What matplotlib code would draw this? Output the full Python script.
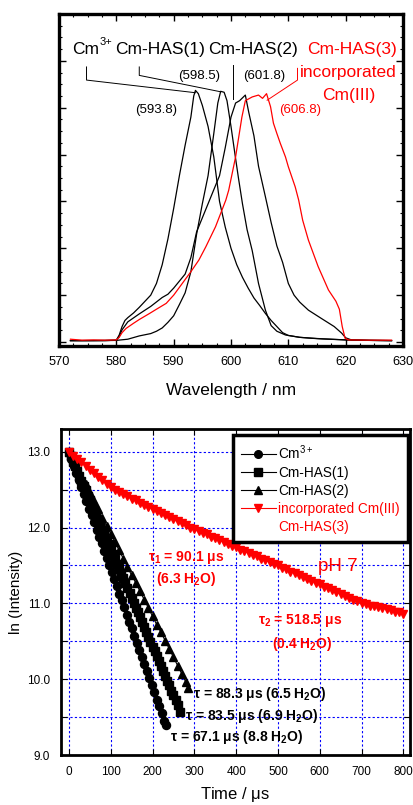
"""
Cm(III) emission spectra and luminescence decay (ln I vs. time)
"""
import matplotlib
matplotlib.use('Agg')
import matplotlib.pyplot as plt
from matplotlib.ticker import MultipleLocator, AutoMinorLocator, FixedLocator, FuncFormatter
from matplotlib.lines import Line2D

plt.rcParams['font.family'] = ['Liberation Sans', 'DejaVu Sans']
plt.rcParams['mathtext.fontset'] = 'custom'
plt.rcParams['mathtext.rm'] = 'Liberation Sans'
plt.rcParams['mathtext.it'] = 'Liberation Sans:italic'
plt.rcParams['mathtext.bf'] = 'Liberation Sans:bold'

# ============ spectra (wavelength nm, intensity a.u.) ============
wl_cm3 = [572, 574, 576, 578, 580, 580.5, 581, 581.5, 582, 583, 584, 585, 586, 587, 588, 589, 590,
          591, 592, 593, 593.5, 593.8, 594.3, 595, 596, 597, 598, 599, 600, 601, 602, 603, 604,
          605, 606, 607, 608, 609, 610, 612, 614, 616, 618, 620, 624, 628]
int_cm3 = [30, 30, 32, 30, 40, 150, 330, 460, 520, 620, 740, 870, 1000, 1250, 1650, 2200, 2850,
           3550, 4200, 4800, 5250, 5370, 5300, 5050, 4600, 3950, 3000, 2450, 2000, 1650, 1380, 1150, 940,
           780, 610, 460, 330, 200, 140, 100, 80, 65, 55, 45, 35, 30]

wl_has1 = [572, 576, 580, 582, 584, 586, 587, 588, 589, 590, 591, 592, 593, 594, 595, 596, 597,
           597.7, 598.2, 598.8, 599.3, 600, 600.7, 601.3, 602, 602.8, 603.7, 604.8, 606, 607, 608,
           609.5, 612, 615, 620, 624, 628]
int_has1 = [30, 30, 35, 60, 130, 180, 230, 300, 420, 560, 800, 1050, 1500, 2300, 2950, 3550, 4450,
            5100, 5350, 5330, 5150, 4600, 4000, 3500, 2950, 2400, 1950, 1250, 680, 350, 230,
            150, 100, 75, 45, 35, 30]

wl_has2 = [572, 576, 580, 580.5, 581, 582, 584, 586, 588, 589, 590, 591, 592, 593, 594, 595, 596,
           597, 598, 599, 600, 600.8, 601.5, 602.5, 603.1, 604, 604.8, 606, 607, 608, 609, 610, 611,
           612, 613.5, 615.8, 618, 619.3, 620, 621, 624, 628]
int_has2 = [30, 30, 35, 120, 260, 430, 600, 760, 950, 1020, 1150, 1300, 1450, 1800, 2350, 2650, 2950,
            3250, 3550, 4150, 4800, 5100, 5150, 5270, 4900, 4400, 3750, 3100, 2550, 2050, 1700, 1250, 1000,
            850, 680, 500, 330, 190, 90, 45, 35, 30]

wl_has3 = [572, 574, 576, 578, 580, 580.5, 581, 581.7, 583, 584, 585.8, 587, 588.7, 590, 591.5, 593,
           594.4, 595.6, 597.3, 599.1, 599.6, 600.8, 601.9, 602.5, 603.7, 604.8, 605.5, 606.2, 606.9,
           607.4, 608, 608.6, 609.5, 610, 611.2, 611.8, 612.5, 613.5, 615.2, 617, 618.3, 618.9, 619.4,
           619.9, 620.5, 624, 628]
int_has3 = [60, 40, 45, 40, 45, 100, 200, 290, 400, 480, 610, 700, 825, 1000, 1250, 1500,
            1750, 2030, 2460, 3030, 3240, 3950, 4800, 5150, 5230, 5270, 5200, 5300, 5020,
            4670, 4450, 4240, 3950, 3740, 3310, 3030, 2600, 2175, 1610, 1110, 870, 700, 330,
            80, 45, 40, 40]

peak_nm = [593.8, 598.5, 601.8, 606.8]

# ============ decay curves (time us, ln intensity) ============
t_cm3 = [0, 6, 12, 18, 24, 30, 36, 42, 48, 54, 60, 66, 72, 78, 84, 90, 96, 102, 108, 114,
         120, 126, 132, 138, 144, 150, 156, 162, 168, 174, 180, 186, 192, 198, 204, 210, 216,
         222, 228, 232]
ln_cm3 = [13.00, 12.91, 12.81, 12.72, 12.63, 12.53, 12.44, 12.35, 12.25, 12.16, 12.07, 11.97,
          11.88, 11.79, 11.69, 11.60, 11.51, 11.41, 11.32, 11.23, 11.13, 11.04, 10.95, 10.85,
          10.76, 10.67, 10.57, 10.48, 10.39, 10.29, 10.20, 10.11, 10.01, 9.92, 9.83, 9.73, 9.64,
          9.55, 9.45, 9.40]

t_has1 = [0, 5, 10, 15, 20, 25, 30, 35, 40, 45, 50, 55, 60, 65, 70, 75, 80, 85, 90, 95, 100,
          105, 110, 115, 120, 125, 130, 135, 140, 145, 150, 155, 160, 165, 170, 175, 180, 185,
          190, 195, 200, 205, 210, 215, 220, 225, 230, 235, 240, 245, 250, 255, 260, 266]
ln_has1 = [13.00, 12.94, 12.87, 12.81, 12.74, 12.68, 12.61, 12.55, 12.49, 12.42, 12.36, 12.29,
           12.23, 12.16, 12.10, 12.04, 11.97, 11.91, 11.84, 11.78, 11.71, 11.65, 11.59, 11.52,
           11.46, 11.39, 11.33, 11.27, 11.20, 11.14, 11.07, 11.01, 10.94, 10.88, 10.82, 10.75,
           10.69, 10.62, 10.56, 10.49, 10.43, 10.37, 10.30, 10.24, 10.17, 10.11, 10.04, 9.98,
           9.92, 9.85, 9.79, 9.72, 9.66, 9.57]

t_has2 = [0, 10, 20, 30, 40, 50, 60, 70, 80, 90, 100, 110, 120, 130, 140, 150, 160, 170, 180,
          190, 200, 210, 220, 230, 240, 250, 260, 270, 280, 286]
ln_has2 = [13.00, 12.89, 12.78, 12.67, 12.57, 12.46, 12.35, 12.24, 12.13, 12.02, 11.92, 11.81,
           11.70, 11.59, 11.48, 11.37, 11.27, 11.16, 11.05, 10.94, 10.83, 10.72, 10.62, 10.51,
           10.40, 10.29, 10.18, 10.07, 9.96, 9.89]

t_has3 = list(range(0, 801, 10))
ln_has3 = [13.00, 12.95, 12.90, 12.86, 12.81, 12.76, 12.72, 12.67, 12.63, 12.58, 12.54,
           12.50, 12.47, 12.44, 12.41, 12.38, 12.36, 12.33, 12.30, 12.27, 12.25,
           12.22, 12.19, 12.17, 12.14, 12.11, 12.08, 12.06, 12.03, 12.00, 11.98,
           11.95, 11.93, 11.91, 11.88, 11.86, 11.83, 11.81, 11.78, 11.76, 11.74,
           11.71, 11.69, 11.66, 11.64, 11.62, 11.59, 11.57, 11.54, 11.52, 11.50,
           11.47, 11.45, 11.42, 11.40, 11.37, 11.35, 11.32, 11.30, 11.27, 11.25,
           11.22, 11.20, 11.17, 11.15, 11.12, 11.10, 11.07, 11.05, 11.03, 11.01,
           10.99, 10.97, 10.96, 10.95, 10.94, 10.92, 10.91, 10.89, 10.88, 10.86]

RED = '#ff0000'
BLUE = '#0000ff'

fig = plt.figure(figsize=(4.14, 8.05), dpi=100)

# ============ 1. top panel: spectra ============
ax1 = fig.add_axes([59 / 414, 1 - 346 / 805, 344 / 414, 332 / 805])
for wl, inten in [(wl_cm3, int_cm3), (wl_has1, int_has1), (wl_has2, int_has2)]:
    ax1.plot(wl, inten, color='black', lw=0.9)
ax1.plot(wl_has3, int_has3, color=RED, lw=0.9)

ax1.set_xlim(570, 630)
ax1.set_ylim(-85, 7000)
ax1.xaxis.set_major_locator(MultipleLocator(10))
ax1.xaxis.set_minor_locator(AutoMinorLocator(4))
ax1.yaxis.set_major_locator(MultipleLocator(1000))
ax1.yaxis.set_minor_locator(AutoMinorLocator(4))
ax1.tick_params(which='both', direction='in', top=True, right=True, labelleft=False,
                labelsize=9.2, pad=7)
ax1.tick_params(which='major', length=5, width=1)
ax1.tick_params(which='minor', length=2.5, width=0.8)
for sp in ax1.spines.values():
    sp.set_linewidth(2.4)
ax1.set_xlabel('Wavelength / nm', fontsize=12.5, labelpad=11)

# leader lines from labels to peaks
ax1.plot([574.8, 574.8, peak_nm[0]], [5870, 5590, 5320], color='black', lw=0.7)
ax1.plot([584.0, 584.0, 598.2], [5870, 5690, 5340], color='black', lw=0.7)
ax1.plot([600.4, 600.4], [5910, 5190], color='black', lw=0.7)
ax1.plot([611.6, 611.6, 606.3], [5840, 5590, 5160], color=RED, lw=0.7)

ax1.text(572.3, 6140, 'Cm', fontsize=12.5, ha='left', va='baseline')
ax1.text(577.0, 6330, '3+', fontsize=8, ha='left', va='baseline')
ax1.text(579.8, 6140, 'Cm-HAS(1)', fontsize=12.5, ha='left', va='baseline')
ax1.text(596.0, 6140, 'Cm-HAS(2)', fontsize=12.5, ha='left', va='baseline')
ax1.text(613.3, 6140, 'Cm-HAS(3)', fontsize=12.5, ha='left', va='baseline', color=RED)
ax1.text(620.5, 5757, 'incorporated', fontsize=12.5, ha='center', va='center', color=RED)
ax1.text(620.6, 5266, 'Cm(III)', fontsize=12.5, ha='center', va='center', color=RED)

ax1.text(594.4, 5672, f'({peak_nm[1]})', fontsize=9.5, ha='center', va='center')
ax1.text(605.8, 5672, f'({peak_nm[2]})', fontsize=9.5, ha='center', va='center')
ax1.text(586.9, 4947, f'({peak_nm[0]})', fontsize=9.5, ha='center', va='center')
ax1.text(612.1, 4947, f'({peak_nm[3]})', fontsize=9.5, ha='center', va='center', color=RED)

# ============ 2. bottom panel: decay ============
ax2 = fig.add_axes([61 / 414, 1 - 755 / 805, 349 / 414, 326 / 805])
ax2.plot(t_cm3, ln_cm3, color='black', lw=0.8, marker='o', ms=5.8, label=r'Cm$^{3+}$')
ax2.plot(t_has1, ln_has1, color='black', lw=0.8, marker='s', ms=5.6, label='Cm-HAS(1)')
ax2.plot(t_has2, ln_has2, color='black', lw=0.8, marker='^', ms=6, label='Cm-HAS(2)')
ax2.plot(t_has3, ln_has3, color=RED, lw=0.8, marker='v', ms=6, mec=RED, mfc=RED,
         label='incorporated Cm(III)')

ax2.set_xlim(-19, 816)
ax2.set_ylim(9.0, 13.3)
ax2.xaxis.set_major_locator(MultipleLocator(100))
ax2.yaxis.set_major_locator(FixedLocator([9.0, 9.5, 10.0, 10.5, 11.0, 11.5, 12.0, 12.5, 13.0]))
ax2.yaxis.set_major_formatter(FuncFormatter(lambda v, p: f'{v:.1f}' if abs(v - round(v)) < 1e-6 else ''))
ax2.tick_params(which='major', direction='in', top=True, right=True, length=4, width=0.8,
                labelsize=8.5, pad=8)
ax2.set_axisbelow(True)
ax2.grid(True, color=BLUE, linestyle=(0, (2, 2)), linewidth=0.8)
for sp in ax2.spines.values():
    sp.set_linewidth(2.0)
ax2.set_xlabel(r'Time / $\mathregular{\mu}$s', fontsize=12, labelpad=5)
ax2.set_ylabel('ln (Intensity)', fontsize=11, labelpad=3)

handles, labels = ax2.get_legend_handles_labels()
handles.append(Line2D([], [], linestyle='none', marker=None))
labels.append('Cm-HAS(3)')
leg = ax2.legend(handles, labels, loc='upper right', bbox_to_anchor=(0.994, 0.982),
                 borderaxespad=0, fontsize=9.8, handlelength=2.6, handletextpad=0.15,
                 labelspacing=0.3, borderpad=0.6, fancybox=False, framealpha=1,
                 edgecolor='black', markerscale=0.95)
leg.get_frame().set_linewidth(2.5)
for txt in leg.get_texts()[3:]:
    txt.set_color(RED)

bold = dict(fontsize=10, fontweight='bold')
ax2.text(280, 11.61, r'τ$_\mathbf{1}$ = 90.1 μs', ha='center', va='center', color=RED, **bold)
ax2.text(280, 11.32, r'(6.3 H$_\mathbf{2}$O)', ha='center', va='center', color=RED, **bold)
ax2.text(643, 11.49, 'pH 7', ha='center', va='center', color=RED, fontsize=13.5)
ax2.text(554, 10.78, r'τ$_\mathbf{2}$ = 518.5 μs', ha='center', va='center', color=RED, **bold)
ax2.text(558, 10.46, r'(0.4 H$_\mathbf{2}$O)', ha='center', va='center', color=RED, **bold)
ax2.text(297, 9.81, r'τ = 88.3 μs (6.5 H$_\mathbf{2}$O)', ha='left', va='center', **bold)
ax2.text(277, 9.51, r'τ = 83.5 μs (6.9 H$_\mathbf{2}$O)', ha='left', va='center', **bold)
ax2.text(242, 9.24, r'τ = 67.1 μs (8.8 H$_\mathbf{2}$O)', ha='left', va='center', **bold)

fig.savefig('out.png', dpi=100)
plt.close(fig)
